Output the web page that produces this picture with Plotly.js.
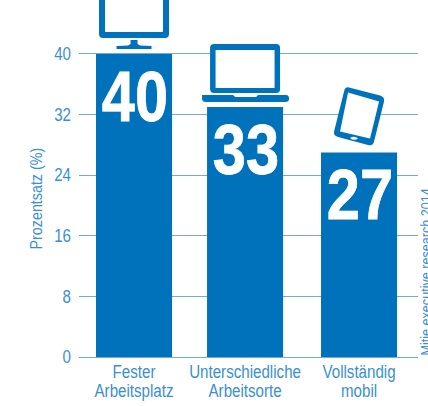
<!DOCTYPE html>
<html><head><meta charset="utf-8">
<script src="https://cdn.plot.ly/plotly-3.0.1.min.js"></script>
<style>html,body{margin:0;padding:0;background:#fff}#c{width:428px;height:406px}</style></head>
<body><div id="c"></div>
<script>
const categories = ["Fester<br>Arbeitsplatz", "Unterschiedliche<br>Arbeitsorte", "Vollständig<br>mobil"];
const values = [40, 33, 27];
const yTicks = [0, 8, 16, 24, 32, 40];
const yTitle = "Prozentsatz (%)";
const sourceNote = "Mitie executive research 2014";
const slots = [0, 0.987, 2];
const BLUE = "#0072bc", TXT = "#3a8fd0", GRID = "#74a9dc";
const FONT = "'Liberation Sans',sans-serif";

function icon(slot, val, path, fill) {
  return {type:"path", xref:"x", yref:"y", xsizemode:"pixel", ysizemode:"pixel",
    xanchor:slot, yanchor:val, path:path, fillcolor:fill, layer:"above", line:{width:0}};
}
function rrect(x0,y0,x1,y1,r){
  return `M${x0+r},${y0} L${x1-r},${y0} Q${x1},${y0} ${x1},${y0+r} L${x1},${y1-r} Q${x1},${y1} ${x1-r},${y1} L${x0+r},${y1} Q${x0},${y1} ${x0},${y1-r} L${x0},${y0+r} Q${x0},${y0} ${x0+r},${y0} Z`;
}
const shapes = [
  // monitor
  icon(slots[0], values[0], rrect(-35,16,35,80,4), BLUE),
  icon(slots[0], values[0], rrect(-29,22,29,80,1), "#fff"),
  icon(slots[0], values[0], "M-17.5,5 L17.5,5 L17.5,8 L6,8.5 L3.5,10 L3.5,14 L-3.5,14 L-3.5,10 L-6,8.5 L-17.5,8 Z", BLUE),
  // laptop
  icon(slots[1], values[1], rrect(-35,14,35,63,4), BLUE),
  icon(slots[1], values[1], rrect(-29.5,19,29.5,57,0.5), "#fff"),
  icon(slots[1], values[1], "M-43,12 L-43,8 Q-43,5 -39,5 L40,5 Q44,5 44,8 Q44,12 41,12 L13,12 L11,10 L-10,10 L-12,12 Z", BLUE),
  // tablet
  icon(slots[2], values[2], "M-10,65 L21,57 Q26,55.5 25,51 L15,11 Q13.5,6 9,7.5 L-21,15.5 Q-26,17 -25,21 L-15,61 Q-14,66 -10,65 Z", BLUE),
  icon(slots[2], values[2], "M-11,60 L20,51 L11,14 L-19,21 Z", "#fff"),
  icon(slots[2], values[2], "M-9,14.5 Q-5,17 -1,14 Q-5,11 -9,14.5 Z", "#fff")
];

const annotations = values.map((v,i)=>({
  x:slots[i], y:v, xref:"x", yref:"y", text:String(v), showarrow:false, yanchor:"top", yshift:-2, xshift:1,
  font:{family:FONT, size:70, color:"#fff", weight:700}
}));
annotations.push({xref:"paper", yref:"paper", x:-0.127, y:0.445, xanchor:"center", yanchor:"middle",
  text:yTitle, textangle:-90, showarrow:false, font:{family:FONT, size:17, color:TXT}});
annotations.push({xref:"paper", yref:"y", x:1.0, y:0, xshift:7, xanchor:"center", yanchor:"bottom", yshift:-17,
  text:sourceNote, textangle:-90, showarrow:false, font:{family:FONT, size:15, color:TXT}});

Plotly.newPlot("c", [{
  type:"bar", x:slots, y:values, marker:{color:BLUE, line:{width:0}}, width:0.676,
  hoverinfo:"skip"
}], {
  width:428, height:406,
  margin:{l:79, r:10, t:0, b:48.5, pad:0},
  paper_bgcolor:"#fff", plot_bgcolor:"#fff", showlegend:false,
  font:{family:FONT, color:TXT, size:18},
  xaxis:{type:"linear", range:[-0.489,2.524], tickvals:slots, ticktext:categories, ticks:"", showgrid:false, zeroline:false,
    showline:false, tickangle:0, automargin:false, ticklabelstandoff:2, tickfont:{family:FONT, size:18, color:TXT}},
  yaxis:{range:[0,47.12], tickvals:yTicks, ticks:"", showgrid:true, gridcolor:GRID, gridwidth:1, zeroline:true, zerolinecolor:GRID, zerolinewidth:1,
    showline:false, tickfont:{family:FONT, size:18, color:TXT}, ticklabelstandoff:7},
  shapes:shapes, annotations:annotations
}, {displayModeBar:false, staticPlot:true}).then(()=>{
  // the reference uses a condensed face: narrow each run of text horizontally
  document.querySelectorAll("#c svg text").forEach(t=>{
    const big = t.textContent.length <= 2 && parseFloat(t.style.fontSize) > 40;
    const runs = t.querySelectorAll("tspan.line");
    (runs.length ? [...runs] : [t]).forEach((el,i)=>{
      const len = el.getComputedTextLength();
      if (len>0){ el.setAttribute("textLength", (len*(big?0.85:0.84)).toFixed(1)); el.setAttribute("lengthAdjust","spacingAndGlyphs"); }
      if (i>0 && el.hasAttribute("dy")) el.setAttribute("dy","1.05em");
      else if (i>0 && el.hasAttribute("y")) el.setAttribute("y", parseFloat(el.getAttribute("y")) - 4);
    });
    if (big){ t.style.stroke="#fff"; t.style.strokeWidth="0.8px"; }
  });
});
</script></body></html>
